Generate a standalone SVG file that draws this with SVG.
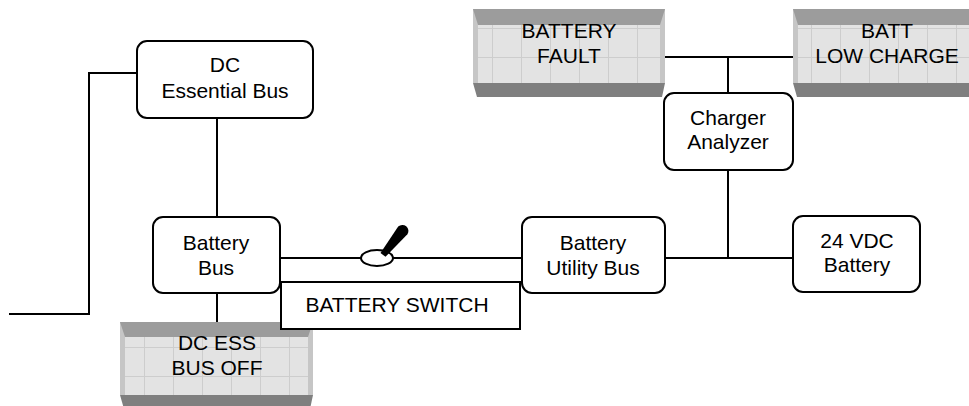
<svg xmlns="http://www.w3.org/2000/svg" width="969" height="406" viewBox="0 0 969 406">
<style>
.node{fill:#fff;stroke:#000;stroke-width:2}
.wire{fill:none;stroke:#000;stroke-width:2}
.lbl{font-family:"Liberation Sans",Arial,sans-serif;font-size:21px;fill:#000;text-anchor:middle}
.top{fill:#9c9c9c}
.bot{fill:#7f7f7f}
.side{fill:#c6c6c6}
</style>
<defs>
<pattern id="gf" patternUnits="userSpaceOnUse" width="29" height="29">
<rect width="29" height="29" fill="#e3e3e3"/>
<path d="M28.5,0V29M0,28.5H29" stroke="#cdcdcd" stroke-width="1"/>
</pattern>
</defs>
<rect width="969" height="406" fill="#fff"/>

<g id="panel-battery-fault">
<polygon class="side" points="473,9 665,9 665,83 473,83"/>
<rect x="478" y="25" width="182" height="58" fill="url(#gf)"/>
<polygon class="top" points="473,9 665,9 660,25 478,25"/>
<polygon class="bot" points="473,83 665,83 662,97 477,97"/>
<text class="lbl" x="569" y="38">BATTERY</text>
<text class="lbl" x="569" y="63">FAULT</text>
</g>

<g id="panel-batt-low-charge">
<polygon class="side" points="793,9 981,9 981,83 793,83"/>
<rect x="798" y="25" width="178" height="58" fill="url(#gf)"/>
<polygon class="top" points="793,9 981,9 976,25 798,25"/>
<polygon class="bot" points="793,83 981,83 978,97 797,97"/>
<text class="lbl" x="887" y="38">BATT</text>
<text class="lbl" x="887" y="63">LOW CHARGE</text>
</g>

<g id="panel-dc-ess-bus-off">
<polygon class="side" points="120,322 313,322 313,395 120,395"/>
<rect x="125" y="337" width="183" height="58" fill="url(#gf)"/>
<polygon class="top" points="120,322 313,322 308,337 125,337"/>
<polygon class="bot" points="120,395 313,395 310,409 124,409"/>
<text class="lbl" x="217" y="350">DC ESS</text>
<text class="lbl" x="217" y="375">BUS OFF</text>
</g>

<g id="connectors">
<polyline class="wire" points="9,314 89,314 89,73 137,73"/>
<line class="wire" x1="217" y1="118" x2="217" y2="217"/>
<line class="wire" x1="217" y1="293" x2="217" y2="322"/>
<line class="wire" x1="665" y1="57" x2="793" y2="57"/>
<line class="wire" x1="728" y1="57" x2="728" y2="93"/>
<line class="wire" x1="728" y1="170" x2="728" y2="258"/>
<line class="wire" x1="665" y1="258" x2="793" y2="258"/>
<line class="wire" x1="280" y1="258" x2="361" y2="258"/>
<line class="wire" x1="393" y1="258" x2="522" y2="258"/>
</g>

<g id="battery-switch">
<rect x="281" y="282" width="239" height="47" fill="#fff" stroke="#000" stroke-width="2"/>
<ellipse cx="377" cy="258" rx="16" ry="8" fill="#fff" stroke="#000" stroke-width="2"/>
<path d="M380.5,253 L398.2,226.6 A6,6 0 0 1 407.4,234.2 L385.5,256.8 Z" fill="#000"/>
<text class="lbl" x="397" y="312">BATTERY SWITCH</text>
</g>

<g id="dc-essential-bus">
<rect class="node" x="137" y="41" width="176" height="77" rx="10"/>
<text class="lbl" x="225" y="72">DC</text>
<text class="lbl" x="225" y="98">Essential Bus</text>
</g>

<g id="battery-bus">
<rect class="node" x="153" y="217" width="127" height="76" rx="10"/>
<text class="lbl" x="216" y="250">Battery</text>
<text class="lbl" x="216" y="275">Bus</text>
</g>

<g id="battery-utility-bus">
<rect class="node" x="522" y="217" width="143" height="76" rx="10"/>
<text class="lbl" x="593" y="250">Battery</text>
<text class="lbl" x="593" y="275">Utility Bus</text>
</g>

<g id="charger-analyzer">
<rect class="node" x="664" y="93" width="129" height="77" rx="10"/>
<text class="lbl" x="728" y="125">Charger</text>
<text class="lbl" x="728" y="149">Analyzer</text>
</g>

<g id="vdc-battery">
<rect class="node" x="793" y="216" width="127" height="76" rx="10"/>
<text class="lbl" x="857" y="248">24 VDC</text>
<text class="lbl" x="857" y="272">Battery</text>
</g>
</svg>
